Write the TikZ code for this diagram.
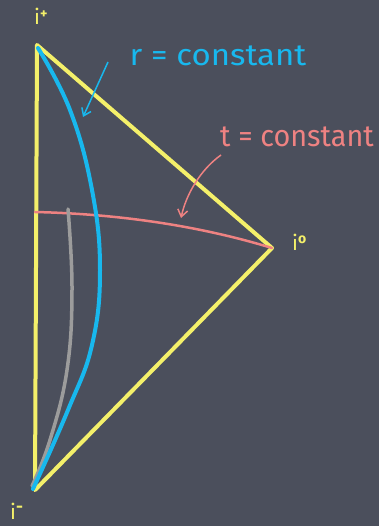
\documentclass[tikz,border=0pt]{standalone}
\usepackage{fontspec}
\setmainfont{Fira Sans}
\usetikzlibrary{arrows.meta}
\definecolor{board}{HTML}{4B4F5C}
\definecolor{chalkyellow}{HTML}{F4F06A}
\definecolor{chalkcyan}{HTML}{18B8EE}
\definecolor{chalkred}{HTML}{EE8282}
\definecolor{chalkgray}{HTML}{9C9C9C}
\tikzset{
  edge/.style={chalkyellow, line width=4pt, line join=round, line cap=round},
  lbl/.style={chalkyellow, font=\fontsize{21}{22}\selectfont, inner sep=0pt},
  bigtxt/.style={font=\fontsize{30}{32}\selectfont, inner sep=0pt}
}
\begin{document}
\begin{tikzpicture}[x=1pt,y=-1pt]
\fill[board] (0,0) rectangle (379,526);
\useasboundingbox (0,0) rectangle (379,526);
% vertices
\coordinate (ip) at (37,45);
\coordinate (i0) at (272,248);
\coordinate (im) at (35,490);
% triangle
\draw[edge] (ip) -- (i0) -- (im) -- cycle;
% t = constant slice
\draw[chalkred, line width=2.5pt, line cap=round] (35,212) .. controls (120,214) and (200,226) .. (i0);
% gray curve
\draw[chalkgray, line width=3.5pt, line cap=round] plot[smooth, tension=0.7] coordinates {(68,209) (72,290) (67,370) (50,440) (32,486)};
% cyan curve
\draw[chalkcyan, line width=4pt, line cap=round] plot[smooth, tension=0.7] coordinates {(38,48) (70,110) (92,190) (100,270) (92,345) (68,410) (33,489)};
% labels
\node[lbl, anchor=base west] (lp) at (34,25) {i\raisebox{6pt}{\fontsize{14}{14}\selectfont\bfseries +}};
\node[lbl, anchor=base west] (l0) at (292,250) {i\raisebox{6pt}{\fontsize{14}{14}\selectfont\bfseries o}};
\node[lbl, anchor=base west] (lm) at (10,519) {i\raisebox{7pt}{\fontsize{17}{17}\selectfont\bfseries -}};
\node[bigtxt, chalkcyan, xscale=1.1] (rc) at (218,56) {r = constant};
\node[bigtxt, chalkred, xscale=0.96] (tc) at (297,137) {t = constant};
% arrows
\coordinate (ra) at (108,62);
\coordinate (rb) at (83,117);
\draw[chalkcyan, line width=1.5pt, -{Straight Barb[length=7pt,width=10pt]}] (ra) -- (rb);
\coordinate (ta) at (221,155);
\coordinate (tb) at (181,218);
\draw[chalkred, line width=1.5pt, -{Straight Barb[length=7pt,width=10pt]}] (ta) .. controls (200,170) and (186,195) .. (tb);
\end{tikzpicture}
\end{document}
